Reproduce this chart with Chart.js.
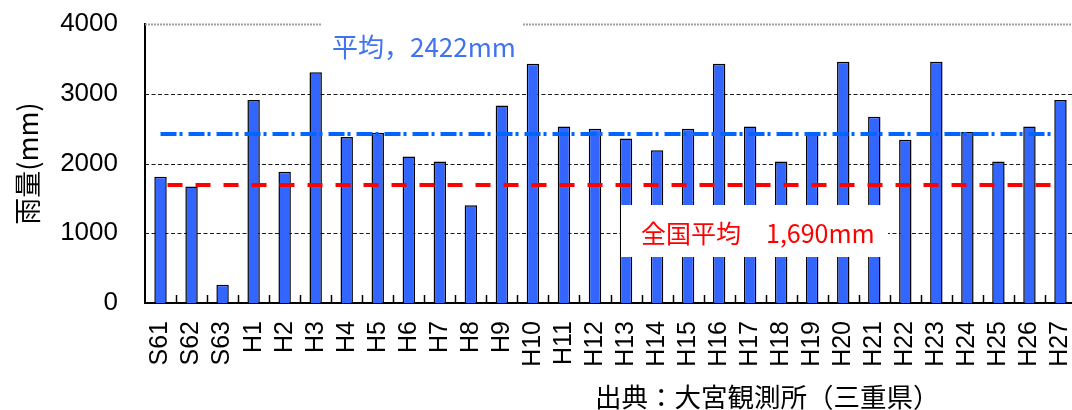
<!DOCTYPE html>
<html lang="ja">
<head>
<meta charset="utf-8">
<title>年間雨量</title>
<script src="https://cdn.jsdelivr.net/npm/chart.js@4"></script>
<style>
  html, body { margin: 0; padding: 0; background: #fff; overflow: hidden; }
  #wrap { position: relative; width: 1076px; height: 410px; }
</style>
</head>
<body>
<div id="wrap"><canvas id="rainChart"></canvas></div>
<script>
// Annual rainfall (mm) at the Omiya station, S61 - H27
const years = [
  "S61", "S62", "S63", "H1", "H2", "H3", "H4", "H5", "H6", "H7",
  "H8", "H9", "H10", "H11", "H12", "H13", "H14", "H15", "H16", "H17",
  "H18", "H19", "H20", "H21", "H22", "H23", "H24", "H25", "H26", "H27",
]
const rainfall = [
  1810, 1670, 260, 2910, 1880, 3310, 2380, 2440, 2100, 2030,
  1400, 2830, 3430, 2530, 2500, 2360, 2190, 2500, 3430, 2530,
  2030, 2440, 3460, 2670, 2340, 3460, 2450, 2030, 2530, 2910,
]
const yTicks = [0, 1000, 2000, 3000, 4000]

// Reference averages
const localAverage = 2422
const nationalAverage = 1690

const latinFont = '"Liberation Sans", Arial, sans-serif'
const jpFont = '"Noto Sans CJK JP", "Noto Sans", sans-serif'

// Grid lines, average lines, inner ticks and text boxes
const overlay = {
  id: "overlay",
  beforeDatasetsDraw(chart) {
    const { ctx, chartArea: area, scales: { y } } = chart
    ctx.save()
    y.ticks.forEach((t) => {
      if (t.value === yTicks[0]) return
      const py = Math.round(y.getPixelForValue(t.value)) + 0.5
      ctx.beginPath()
      if (t.value === yTicks[yTicks.length - 1]) {
        ctx.strokeStyle = "#a0a0a0"
        ctx.lineWidth = 2
        ctx.setLineDash([2, 1])
      } else {
        ctx.strokeStyle = "#1a1a1a"
        ctx.lineWidth = 1
        ctx.setLineDash([4, 2.5])
      }
      ctx.moveTo(area.left, py)
      ctx.lineTo(area.right, py)
      ctx.stroke()
    })
    ctx.restore()
  },
  afterDatasetsDraw(chart) {
    const { ctx, chartArea: area, scales: { x, y } } = chart
    const first = x.getPixelForValue(0)
    const last = x.getPixelForValue(years.length - 1)
    ctx.save()

    // small tick marks between categories, pointing up from the axis
    ctx.strokeStyle = "#000"
    ctx.lineWidth = 1.5
    for (let i = 1; i < years.length; i++) {
      const px = Math.round((x.getPixelForValue(i - 1) + x.getPixelForValue(i)) / 2) + 0.5
      ctx.beginPath()
      ctx.moveTo(px, area.bottom - 8)
      ctx.lineTo(px, area.bottom)
      ctx.stroke()
    }

    // local average: dash-dot blue
    ctx.lineWidth = 4
    ctx.strokeStyle = "#0066ff"
    ctx.setLineDash([16, 3, 3, 6])
    let py = y.getPixelForValue(localAverage)
    ctx.beginPath()
    ctx.moveTo(first, py)
    ctx.lineTo(last - 6, py)
    ctx.stroke()

    // national average: dashed red
    ctx.strokeStyle = "#ff0000"
    ctx.setLineDash([15, 13])
    py = y.getPixelForValue(nationalAverage)
    ctx.beginPath()
    ctx.moveTo(first + 7, py)
    ctx.lineTo(last - 8, py)
    ctx.stroke()
    ctx.setLineDash([])

    // label boxes
    ctx.textBaseline = "middle"
    ctx.textAlign = "left"
    ctx.font = "26px " + jpFont

    ctx.fillStyle = "#fff"
    ctx.fillRect(322, 16, 200, 56)
    ctx.fillStyle = "#3f73f0"
    ctx.fillText(`平均，${localAverage}mm`, 332, 47)

    ctx.fillStyle = "#fff"
    ctx.fillRect(621, 205, 267, 52)
    ctx.fillStyle = "#ff0000"
    ctx.font = "25px " + jpFont
    ctx.fillText(`全国平均　${nationalAverage.toLocaleString("en-US")}mm`, 641, 233)

    // source note
    ctx.fillStyle = "#000"
    ctx.font = "26.5px " + jpFont
    ctx.fillText("出典：大宮観測所（三重県）", 595, 397)

    ctx.restore()
  },
}

const ctx = document.getElementById("rainChart").getContext("2d")
new Chart(ctx, {
  type: "bar",
  data: {
    labels: years,
    datasets: [
      {
        label: "雨量",
        data: rainfall,
        backgroundColor: "#3366ff",
        borderColor: "#000",
        borderWidth: 1.5,
        borderSkipped: "bottom",
        categoryPercentage: 1,
        barPercentage: 0.4,
      },
    ],
  },
  options: {
    responsive: true,
    maintainAspectRatio: false,
    animation: false,
    layout: { padding: { top: 24, right: 0, bottom: 0, left: 0 } },
    plugins: {
      legend: { display: false },
      tooltip: { enabled: false },
    },
    scales: {
      x: {
        grid: { display: false, drawTicks: false },
        border: { display: true, color: "#000", width: 2 },
        ticks: {
          color: "#000",
          font: { family: latinFont, size: 25 },
          minRotation: 90,
          maxRotation: 90,
          autoSkip: false,
          padding: 18,
        },
        afterFit(scale) {
          scale.height = 107
          scale.paddingLeft = 0
          scale.paddingRight = 0
        },
      },
      y: {
        min: yTicks[0],
        max: yTicks[yTicks.length - 1],
        grid: { display: false, drawTicks: false },
        border: { display: true, color: "#000", width: 2 },
        ticks: {
          stepSize: 1000,
          color: "#000",
          font: { family: latinFont, size: 26 },
          padding: 27,
          callback: (v) => String(v),
        },
        title: {
          display: true,
          text: "雨量(mm)",
          color: "#000",
          font: { family: jpFont, size: 27 },
          padding: { top: 12, bottom: 0 },
        },
        afterFit(scale) {
          scale.width = 145
          scale.paddingTop = 0
          scale.paddingBottom = 0
        },
      },
    },
  },
  plugins: [overlay],
})
</script>
</body>
</html>
